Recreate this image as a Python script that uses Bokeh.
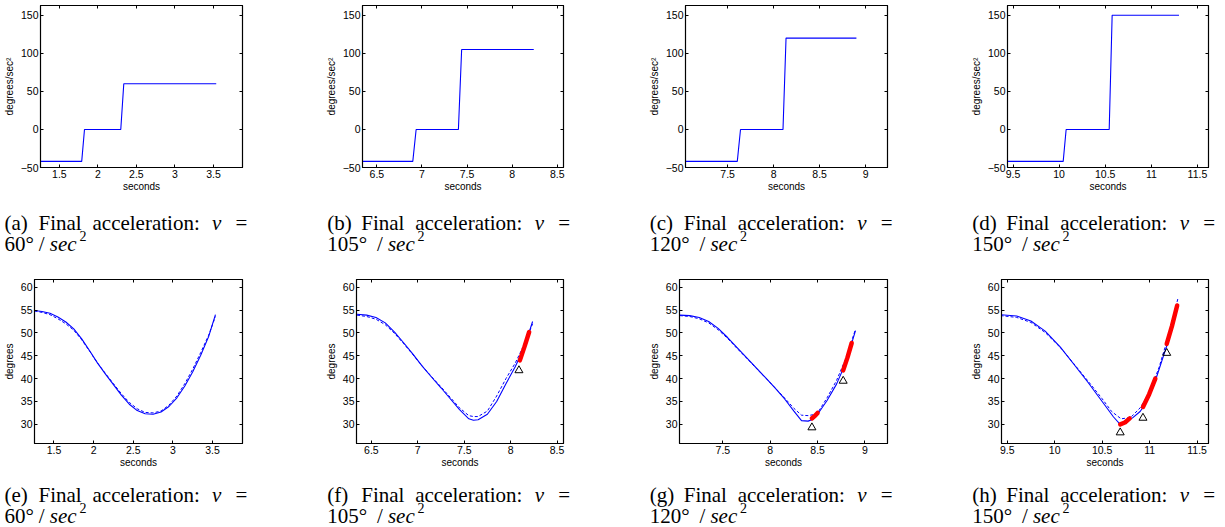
from bokeh.plotting import figure
from bokeh.models import Range1d, FixedTicker, CustomJSTickFormatter, LinearAxis, Label
from bokeh.layouts import row, column
from bokeh.embed import file_html
from bokeh.resources import INLINE

# ---------------- data ----------------
letters_top = ["a", "b", "c", "d"]
letters_bot = ["e", "f", "g", "h"]
final_acc = ["60", "105", "120", "150"]

x_ranges = [(1.255, 3.877), (6.34, 8.57), (7.042, 9.238), (9.44, 11.62)]
x_ticks = [[1.5, 2, 2.5, 3, 3.5], [6.5, 7, 7.5, 8, 8.5], [7.5, 8, 8.5, 9], [9.5, 10, 10.5, 11, 11.5]]
acc_y_range = (-50, 162.8)
acc_y_ticks = [-50, 0, 50, 100, 150]
ang_y_range = (25.8, 61.7)
ang_y_ticks = [30, 35, 40, 45, 50, 55, 60]

# top row: commanded acceleration (degrees/sec^2)
acc_t_a = [1.255, 1.79, 1.826, 2.297, 2.336, 3.536]
acc_v_a = [-42, -42, 0, 0, 60, 60]
acc_t_b = [6.34, 6.898, 6.935, 7.404, 7.44, 8.24]
acc_v_b = [-42, -42, 0, 0, 105, 105]
acc_t_c = [7.042, 7.605, 7.64, 8.102, 8.135, 8.90]
acc_v_c = [-42, -42, 0, 0, 120, 120]
acc_t_d = [9.44, 10.044, 10.076, 10.543, 10.575, 11.30]
acc_v_d = [-42, -42, 0, 0, 150, 150]

# bottom row: angle (degrees), solid = actual, dashed = predicted
ang_t_e = [1.255, 1.35, 1.45, 1.55, 1.65, 1.75, 1.85, 1.95, 2.05, 2.15, 2.25, 2.35, 2.45,
           2.55, 2.65, 2.75, 2.85, 2.95, 3.05, 3.15, 3.25, 3.35, 3.45, 3.536]
ang_s_e = [54.9, 54.7, 54.3, 53.5, 52.4, 50.9, 48.7, 46.1, 43.4, 41.0, 38.7, 36.4, 34.4,
           33.0, 32.3, 32.2, 32.7, 33.9, 35.8, 38.4, 41.5, 45.1, 49.2, 54.0]
ang_d_e = [54.8, 54.5, 54.0, 53.1, 52.0, 50.6, 48.5, 46.0, 43.4, 41.1, 38.9, 36.7, 34.8,
           33.4, 32.6, 32.5, 32.9, 34.2, 36.2, 38.9, 42.1, 45.7, 49.5, 53.6]

ang_t_f = [6.345, 6.45, 6.55, 6.65, 6.75, 6.85, 6.95, 7.05, 7.15, 7.25, 7.35, 7.45, 7.55,
           7.6, 7.65, 7.75, 7.85, 7.95, 8.05, 8.15, 8.237]
ang_s_f = [54.1, 53.9, 53.4, 52.2, 50.2, 47.8, 45.3, 42.7, 40.3, 38.0, 35.6, 33.2, 31.2,
           30.9, 31.0, 32.2, 35.0, 38.9, 42.6, 47.0, 52.5]
ang_d_f = [53.9, 53.6, 53.0, 51.8, 49.9, 47.6, 45.2, 42.7, 40.4, 38.2, 35.9, 33.6, 31.9,
           31.7, 31.7, 32.9, 36.2, 40.0, 43.4, 47.6, 52.0]
red_x_f = [[8.10, 8.15, 8.20]]
red_y_f = [[44.0, 47.0, 50.2]]
tri_x_f = [8.09]
tri_y_f = [41.8]

ang_t_g = [7.045, 7.15, 7.25, 7.35, 7.45, 7.55, 7.65, 7.75, 7.85, 7.95, 8.05, 8.15, 8.25,
           8.33, 8.4, 8.45, 8.5, 8.6, 8.7, 8.8, 8.9]
ang_s_g = [53.9, 53.8, 53.4, 52.5, 51.0, 49.0, 46.8, 44.6, 42.4, 40.2, 38.0, 35.6, 32.9,
           30.8, 30.7, 31.1, 32.2, 35.2, 38.8, 43.6, 50.5]
ang_d_g = [53.8, 53.6, 53.1, 52.2, 50.7, 48.8, 46.6, 44.5, 42.3, 40.2, 38.0, 35.8, 33.5,
           32.0, 31.9, 32.1, 32.5, 35.8, 39.6, 44.5, 50.8]
red_x_g = [[8.44, 8.47, 8.50], [8.77, 8.815, 8.86]]
red_y_g = [[31.3, 31.8, 32.5], [41.8, 44.6, 47.8]]
tri_x_g = [8.44, 8.77]
tri_y_g = [29.3, 39.5]

ang_t_h = [9.43, 9.6, 9.75, 9.9, 10.06, 10.2, 10.35, 10.5, 10.62, 10.69, 10.75, 10.82,
           10.9, 10.96, 11.02, 11.08, 11.14, 11.2, 11.26, 11.30]
ang_s_h = [54.0, 53.7, 52.6, 50.4, 46.9, 43.2, 39.2, 35.0, 31.6, 30.0, 30.4, 31.4,
           32.8, 34.6, 37.4, 40.8, 44.6, 48.4, 52.6, 56.0]
ang_dt_h = [9.43, 9.6, 9.75, 9.9, 10.06, 10.2, 10.35, 10.5, 10.6, 10.7, 10.8, 10.9, 11.0,
            11.1, 11.2, 11.3]
ang_d_h = [53.8, 53.4, 52.3, 50.1, 46.8, 43.3, 39.5, 35.6, 32.8, 31.2, 31.5, 33.6, 37.0,
           42.5, 49.5, 57.7]
red_x_h = [[10.69, 10.74, 10.79], [10.93, 10.995, 11.06], [11.18, 11.235, 11.29]]
red_y_h = [[30.0, 30.4, 31.3], [33.8, 36.6, 40.0], [47.6, 51.5, 56.0]]
tri_x_h = [10.69, 10.93, 11.18]
tri_y_h = [28.2, 31.4, 45.6]

acc_t = [acc_t_a, acc_t_b, acc_t_c, acc_t_d]
acc_v = [acc_v_a, acc_v_b, acc_v_c, acc_v_d]
ang_t = [ang_t_e, ang_t_f, ang_t_g, ang_t_h]
ang_s = [ang_s_e, ang_s_f, ang_s_g, ang_s_h]
ang_dt = [ang_t_e, ang_t_f, ang_t_g, ang_dt_h]
ang_d = [ang_d_e, ang_d_f, ang_d_g, ang_d_h]
red_x = [[], red_x_f, red_x_g, red_x_h]
red_y = [[], red_y_f, red_y_g, red_y_h]
tri_x = [[], tri_x_f, tri_x_g, tri_x_h]
tri_y = [[], tri_y_f, tri_y_g, tri_y_h]

# ---------------- layout / style ----------------
TOTAL_W = 1224
col_w = [322, 323, 322, 257]
border_l_top = [38, 39, 38, 39]
border_l_bot = [32, 32, 32, 32]
border_r = [80, 82, 80, 16]
cap_x = [4, 326.7, 649.2, 971.7]
TOP_H, TOPCAP_H, BOT_H, BOTCAP_H = 195, 67, 208, 56
SANS = "Liberation Sans"
SERIF = "Liberation Serif"
BLUE = "#0000ff"

tick_fmt = "return String(tick).replace('-', '\\u2212');"


def style(p, xticks, yticks, ylabel):
    p.xgrid.visible = False
    p.ygrid.visible = False
    p.outline_line_color = "black"
    p.outline_line_width = 1.2
    p.background_fill_color = "white"
    p.border_fill_color = "white"
    for ax in p.xaxis:
        ax.ticker = FixedTicker(ticks=xticks)
        ax.axis_label = "seconds"
        ax.axis_label_standoff = 0
        ax.major_label_standoff = 2
    for ax in p.yaxis:
        ax.ticker = FixedTicker(ticks=yticks)
        ax.axis_label = ylabel
        ax.axis_label_standoff = 3
        ax.major_label_standoff = 2
    for ax in list(p.xaxis) + list(p.yaxis):
        ax.formatter = CustomJSTickFormatter(code=tick_fmt)
        ax.major_label_text_font = SANS
        ax.major_label_text_font_size = "10.5px"
        ax.major_label_text_color = "black"
        ax.axis_label_text_font = SANS
        ax.axis_label_text_font_size = "10px"
        ax.axis_label_text_font_style = "normal"
        ax.axis_label_text_color = "black"
        ax.major_tick_in = 3
        ax.major_tick_out = 0
        ax.minor_tick_line_color = None
        ax.axis_line_color = "black"
        ax.major_tick_line_color = "black"
    # mirrored tick marks on top and right (MATLAB box)
    for loc, ticks in (("above", xticks), ("right", yticks)):
        a = LinearAxis(ticker=FixedTicker(ticks=ticks),
                       formatter=CustomJSTickFormatter(code="return '';"),
                       major_label_text_font_size="0px", major_label_standoff=0,
                       major_tick_in=3, major_tick_out=0, minor_tick_line_color=None,
                       axis_line_color="black", major_tick_line_color="black")
        p.add_layout(a, loc)


def caption_fig(height, letters, y1, y2):
    c = figure(width=TOTAL_W, height=height, x_range=Range1d(0, 1), y_range=Range1d(0, 1),
               output_backend="svg", toolbar_location=None, title=None,
               x_axis_type=None, y_axis_type=None, min_border=0)
    c.outline_line_color = None
    c.xgrid.visible = False
    c.ygrid.visible = False

    def t(x, y, text, size="21px", st="normal"):
        # x from the left edge, y = baseline measured from the top edge (pixels)
        c.add_layout(Label(x=x, y=height - y, x_units="screen", y_units="screen",
                           text=text, text_font=SERIF, text_font_size=size,
                           text_font_style=st, text_color="black",
                           text_align="left", text_baseline="alphabetic"))
    for i in range(4):
        x0 = cap_x[i]
        num = final_acc[i]
        t(x0, y1, "(%s)" % letters[i])
        t(x0 + 34, y1, "Final")
        t(x0 + 88, y1, "acceleration:")
        t(x0 + 207.5, y1, "v", st="italic")
        t(x0 + 231, y1, "=")
        nw = 30.3 if len(num) == 2 else 45.7
        t(x0, y2, num + "\u00b0")
        t(x0 + nw + 4, y2, "/")
        t(x0 + nw + 15, y2, "sec", st="italic")
        t(x0 + nw + 44.7, y2 - 8, "2", size="14px")
    return c


row_top, row_bot = [], []
for i in range(4):
    # top row: acceleration
    p = figure(width=col_w[i], height=TOP_H, x_range=Range1d(*x_ranges[i]),
               y_range=Range1d(*acc_y_range), output_backend="svg", toolbar_location=None,
               title=None, min_border_left=border_l_top[i], min_border_right=border_r[i],
               min_border_top=5, min_border_bottom=28)
    style(p, x_ticks[i], acc_y_ticks, "degrees/sec\u00b2")
    p.line(acc_t[i], acc_v[i], line_color=BLUE, line_width=1.1)
    row_top.append(p)

    # bottom row: angle
    q = figure(width=col_w[i], height=BOT_H, x_range=Range1d(*x_ranges[i]),
               y_range=Range1d(*ang_y_range), output_backend="svg", toolbar_location=None,
               title=None, min_border_left=border_l_bot[i], min_border_right=border_r[i],
               min_border_top=17, min_border_bottom=27)
    style(q, x_ticks[i], ang_y_ticks, "degrees")
    q.line(ang_dt[i], ang_d[i], line_color=BLUE, line_width=1.0, line_dash="3 2")
    q.line(ang_t[i], ang_s[i], line_color=BLUE, line_width=1.1)
    if red_x[i]:
        q.multi_line(red_x[i], red_y[i], line_color="#ff0000", line_width=4.5, line_cap="round")
    if tri_x[i]:
        q.scatter(tri_x[i], tri_y[i], marker="triangle", size=8, fill_color=None,
                  line_color="black", line_width=1)
    row_bot.append(q)

layout = column(row(*row_top, spacing=0),
                caption_fig(TOPCAP_H, letters_top, 27, 48),
                row(*row_bot, spacing=0),
                caption_fig(BOTCAP_H, letters_bot, 24, 45),
                spacing=0)
open("out.html", "w").write(file_html(layout, INLINE))
